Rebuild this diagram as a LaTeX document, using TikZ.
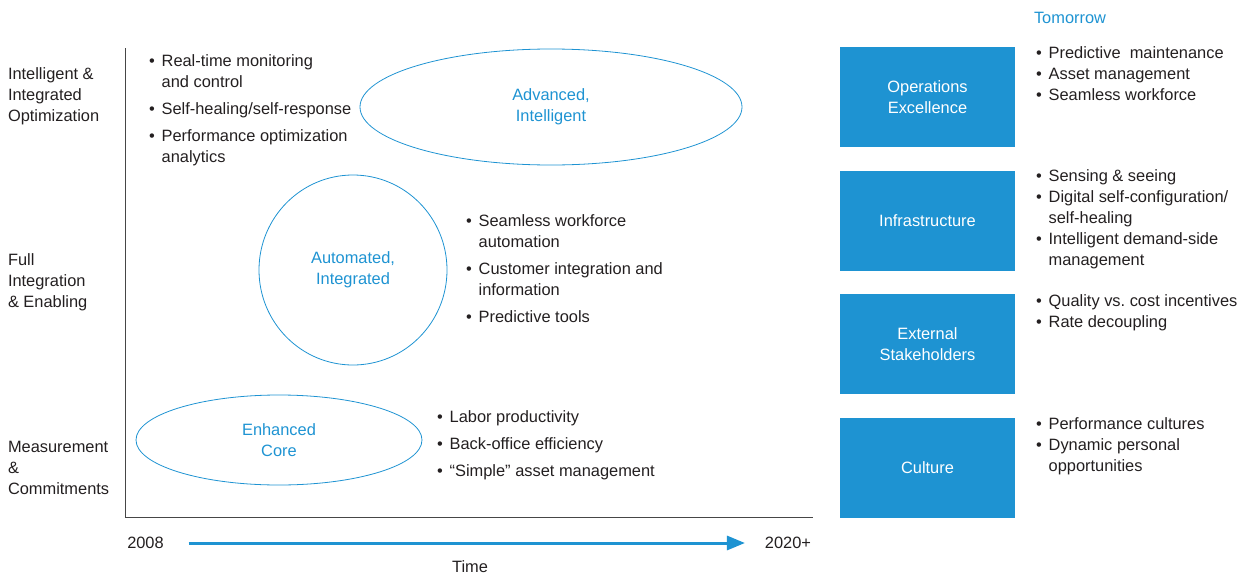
\documentclass[tikz,border=0pt]{standalone}
\usepackage{fontspec}
\setmainfont{Liberation Sans}
\usepackage{tikz}
\usetikzlibrary{arrows.meta, positioning, shapes.geometric}
\definecolor{ChartBlue}{RGB}{30,147,210}
\definecolor{InkGray}{RGB}{35,31,32}
\definecolor{AxisGray}{RGB}{70,70,70}
\frenchspacing
\newcommand{\blist}[1]{{\setlength{\tabcolsep}{0pt}\begin{tabular}[t]{p{9.5pt}l}#1\end{tabular}}}
\newcommand{\lines}[1]{{\setlength{\tabcolsep}{0pt}\begin{tabular}[t]{l}#1\end{tabular}}}
\tikzset{
  txt/.style={text=InkGray, font=\fontsize{12.3}{15.75}\selectfont, inner sep=0pt, outer sep=0pt},
  items/.style={txt, anchor=base west},
  phase/.style={ellipse, draw=ChartBlue, line width=0.6pt, inner sep=0pt, outer sep=0pt, text=ChartBlue, align=center, font=\fontsize{12.3}{15.75}\selectfont},
  pillar/.style={fill=ChartBlue, text=white, minimum width=131.25pt, minimum height=75pt, inner sep=0pt, align=center, font=\fontsize{12.3}{15.75}\selectfont},
  timeline/.style={ChartBlue, line width=2.25pt, -{Triangle[length=13.5pt,width=10.5pt]}}
}
\begin{document}
\begin{tikzpicture}[x=0.75pt, y=-0.75pt]
\useasboundingbox (0,0) rectangle (1254,575);
% axes
\coordinate (top) at (125,48);
\coordinate (origin) at (125,517);
\coordinate (right) at (813,517);
\draw[AxisGray, line width=0.75pt] (top) -- (origin) -- (right);

% levels
\node[items] (lvl3) at (8,79.5) {\lines{Intelligent \&\\Integrated\\Optimization}};
\node[items] (lvl2) at (8,265.5) {\lines{Full\\Integration\\\& Enabling}};
\node[items] (lvl1) at (8,452.5) {\lines{Measurement\\\&\\Commitments}};

% phases
\node[phase, minimum width=286.5pt, minimum height=87pt] (adv) at (551,107) {Advanced,\\Intelligent};
\node[phase, minimum width=141pt, minimum height=142.5pt] (auto) at (353,270) {Automated,\\Integrated};
\node[phase, minimum width=214.5pt, minimum height=67.5pt] (core) at (279,440) {Enhanced\\Core};

\node[items] (advlist) at (149,66.5) {\blist{\textbullet & Real-time monitoring\\ & and control\\[4.5pt]
  \textbullet & Self-healing/self-response\\[4.5pt]
  \textbullet & Performance optimization\\ & analytics}};
\node[items] (autolist) at (466,226.5) {\blist{\textbullet & Seamless workforce\\ & automation\\[4.5pt]
  \textbullet & Customer integration and\\ & information\\[4.5pt]
  \textbullet & Predictive tools}};
\node[items] (corelist) at (437,422.5) {\blist{\textbullet & Labor productivity\\[4.5pt]
  \textbullet & Back-office efficiency\\[4.5pt]
  \textbullet & ``Simple'' asset management}};

% time
\node[txt] (y2008) at (145.5,543) {2008};
\node[txt] (y2020) at (788,543) {2020+};
\node[txt] (time) at (470,567) {Time};
\draw[timeline] ([xshift=18.75pt]y2008.east) -- ([xshift=-15pt]y2020.west);

% tomorrow
\node[items, text=ChartBlue] (tmrw) at (1034,23) {Tomorrow};
\node[pillar] (ops) at (927.5,97) {Operations\\Excellence};
\node[pillar, below=17.25pt of ops] (infra) {Infrastructure};
\node[pillar, below=17.25pt of infra] (ext) {External\\Stakeholders};
\node[pillar, below=17.25pt of ext] (cult) {Culture};

\node[items] (opslist) at (1036,58.5) {\blist{\textbullet & Predictive~ maintenance\\
  \textbullet & Asset management\\
  \textbullet & Seamless workforce}};
\node[items] (infralist) at (1036,181.5) {\blist{\textbullet & Sensing \& seeing\\
  \textbullet & Digital self-configuration/\\ & self-healing\\
  \textbullet & Intelligent demand-side\\ & management}};
\node[items] (extlist) at (1036,306.5) {\blist{\textbullet & Quality vs. cost incentives\\
  \textbullet & Rate decoupling}};
\node[items] (cultlist) at (1036,429.5) {\blist{\textbullet & Performance cultures\\
  \textbullet & Dynamic personal\\ & opportunities}};
\end{tikzpicture}
\end{document}
